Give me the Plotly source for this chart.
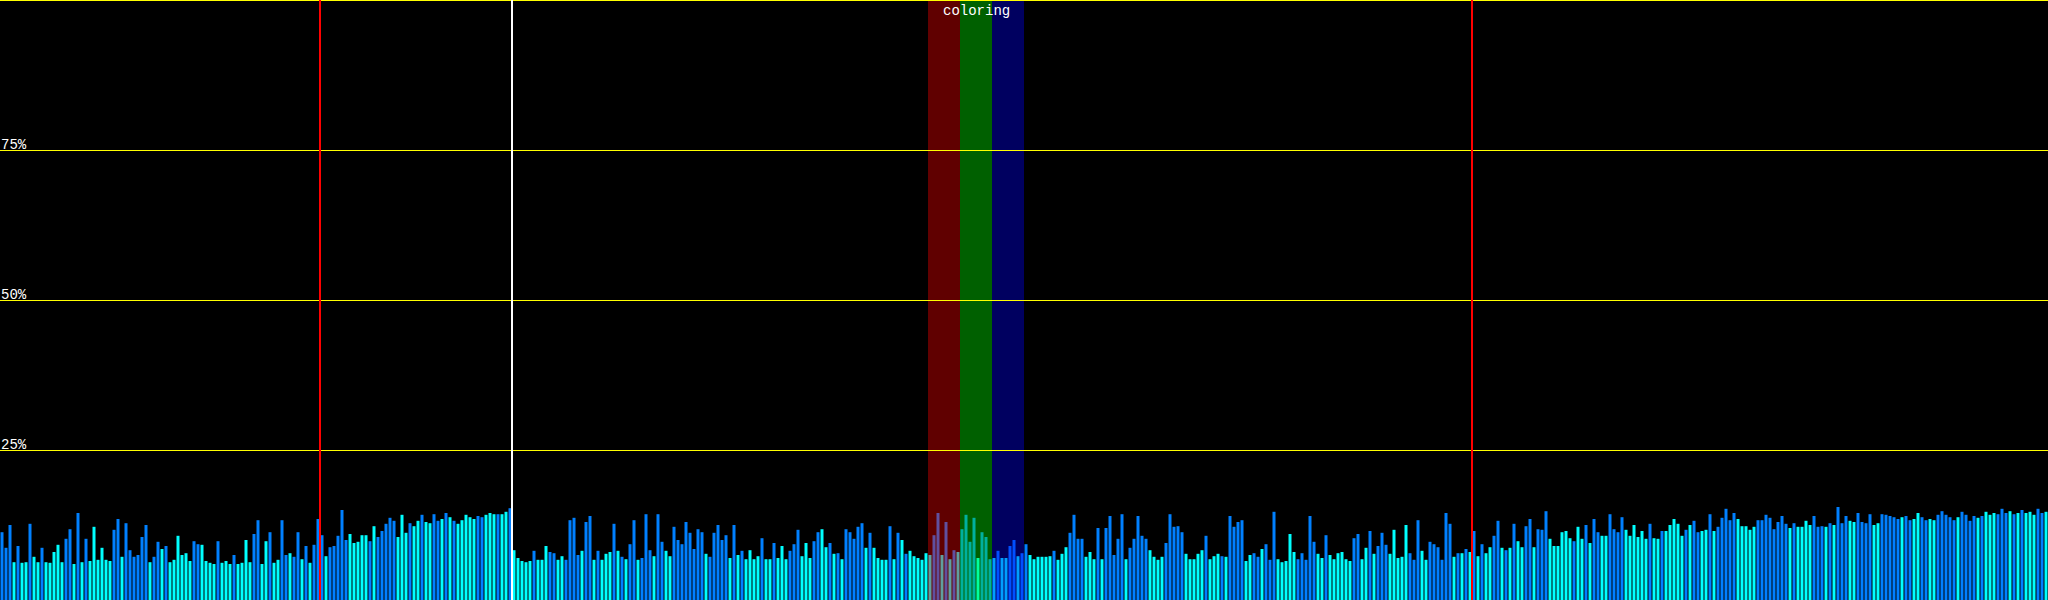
import plotly.graph_objects as go

# bar heights in percent, 100 bars per block
vals_000 = [11.3, 8.7, 12.5, 6.3, 9.0, 6.2, 6.3, 12.7, 7.2, 6.3,
            8.7, 6.3, 6.2, 8.0, 9.2, 6.3, 10.2, 11.8, 6.0, 14.5,
            6.3, 10.2, 6.5, 12.2, 6.7, 8.7, 6.7, 6.5, 11.7, 13.5,
            7.2, 12.8, 8.3, 7.2, 7.5, 10.5, 12.5, 6.3, 7.2, 9.7,
            8.5, 9.0, 6.3, 6.7, 10.7, 7.5, 7.8, 6.5, 9.8, 9.3,
            9.2, 6.5, 6.2, 6.0, 9.8, 6.2, 6.5, 6.0, 7.5, 6.0,
            6.2, 10.0, 6.3, 11.0, 13.3, 6.0, 9.8, 11.3, 6.2, 6.7,
            13.3, 7.5, 7.8, 7.2, 11.3, 6.8, 9.0, 6.2, 9.2, 13.5,
            10.8, 7.3, 8.8, 9.0, 10.7, 15.0, 10.0, 11.0, 9.5, 9.7,
            10.8, 10.8, 9.8, 12.3, 10.5, 11.5, 12.7, 13.7, 13.2, 10.5]
vals_100 = [14.2, 11.2, 12.8, 12.3, 13.2, 14.2, 13.0, 12.8, 14.3, 13.2,
            13.5, 14.5, 13.8, 13.2, 12.7, 13.3, 14.2, 13.8, 13.5, 14.0,
            13.8, 14.2, 14.5, 14.3, 14.3, 14.3, 14.7, 15.3, 8.3, 7.0,
            6.5, 6.3, 6.5, 8.2, 6.7, 6.7, 9.0, 8.0, 7.8, 6.7,
            7.3, 6.7, 13.3, 13.7, 7.5, 8.2, 13.0, 14.0, 6.7, 8.2,
            6.7, 7.7, 8.0, 12.7, 8.2, 7.2, 6.8, 9.3, 13.3, 6.7,
            7.0, 14.3, 8.3, 7.3, 14.3, 9.7, 8.2, 7.3, 12.2, 10.0,
            9.3, 13.0, 11.2, 8.5, 11.8, 11.3, 7.7, 7.2, 11.2, 12.5,
            10.0, 10.8, 7.0, 12.5, 7.5, 8.2, 6.8, 8.3, 6.8, 7.3,
            10.3, 6.8, 6.8, 9.5, 7.0, 9.0, 6.8, 8.2, 9.3, 11.7]
vals_200 = [7.3, 9.5, 7.0, 9.8, 11.3, 11.8, 8.8, 9.5, 7.7, 7.8,
            6.8, 11.8, 11.3, 10.2, 12.2, 12.8, 8.7, 11.2, 8.7, 7.0,
            6.7, 6.7, 12.3, 6.8, 11.2, 10.0, 7.7, 8.2, 7.3, 7.0,
            6.7, 7.8, 7.5, 10.8, 14.5, 7.5, 13.0, 6.8, 8.3, 8.0,
            11.8, 14.2, 9.7, 13.7, 7.0, 11.3, 10.5, 6.8, 7.0, 8.2,
            7.0, 7.0, 9.0, 10.0, 7.3, 7.8, 9.3, 7.5, 6.8, 7.2,
            7.2, 7.2, 7.3, 8.2, 6.7, 7.7, 8.8, 11.2, 14.2, 10.2,
            10.2, 7.2, 8.0, 6.8, 12.0, 6.8, 12.0, 14.0, 7.5, 10.2,
            14.3, 6.8, 8.7, 10.2, 14.0, 10.7, 10.2, 8.3, 7.2, 6.7,
            7.2, 9.5, 14.3, 12.2, 12.3, 11.3, 7.7, 6.8, 6.8, 7.7]
vals_300 = [8.3, 10.7, 6.8, 7.3, 7.7, 7.3, 7.2, 14.0, 12.2, 13.0,
            13.3, 6.5, 7.5, 7.8, 7.2, 8.5, 9.3, 6.7, 14.7, 6.8,
            6.3, 6.5, 11.0, 8.0, 6.8, 7.8, 6.7, 14.0, 9.7, 7.7,
            7.0, 10.8, 7.5, 6.8, 7.8, 8.0, 6.8, 6.5, 10.3, 11.0,
            6.8, 8.7, 11.5, 7.7, 9.0, 11.2, 9.2, 7.7, 11.7, 7.0,
            7.2, 12.5, 7.8, 6.7, 13.3, 8.2, 6.7, 9.7, 9.3, 8.8,
            6.7, 14.5, 12.7, 7.2, 7.8, 7.8, 8.5, 8.0, 11.5, 7.3,
            9.3, 7.8, 8.8, 10.7, 13.2, 8.7, 8.3, 8.7, 12.7, 9.8,
            8.8, 12.3, 13.5, 8.8, 11.8, 11.7, 14.8, 10.2, 9.0, 9.0,
            11.3, 11.5, 10.3, 9.8, 12.2, 10.2, 12.5, 9.5, 13.5, 11.3]
vals_400 = [10.7, 10.7, 14.3, 11.8, 11.3, 13.8, 11.7, 10.7, 12.5, 10.5,
            11.5, 10.2, 12.7, 10.3, 10.2, 11.5, 11.5, 12.5, 13.5, 12.7,
            10.7, 11.7, 12.5, 13.2, 11.3, 11.5, 11.7, 14.3, 11.5, 12.2,
            13.7, 15.2, 13.3, 14.5, 13.5, 12.3, 12.3, 11.7, 12.2, 13.3,
            13.3, 14.2, 13.7, 11.8, 13.0, 14.0, 12.7, 12.0, 12.8, 12.2,
            12.2, 13.2, 12.5, 14.0, 12.2, 12.3, 12.2, 12.8, 12.5, 15.5,
            12.8, 14.0, 13.2, 13.0, 14.5, 13.0, 12.8, 14.3, 12.5, 12.8,
            14.3, 14.2, 14.0, 13.8, 13.5, 13.8, 14.0, 13.3, 13.5, 14.5,
            13.8, 13.3, 13.5, 13.3, 14.2, 14.8, 14.2, 13.8, 13.3, 13.8,
            14.7, 14.2, 13.2, 14.0, 13.7, 14.0, 14.7, 14.2, 14.5, 14.3,
            15.2, 14.5, 14.8, 14.3, 14.5, 15.0, 14.5, 14.7, 14.2, 15.2,
            14.5, 14.7]

# bar kind per bar: b = blue, c = cyan
kind_000 = ("bbbcbccbcc" "bcccccbbcb" "cbccccccbb" "cbbbbbbcbb" "cbccccccbb"
            "ccccbcccbc" "cccbbccbcc" "bbcbbcbcbb" "bcbbbbbccc" "ccbcbbbbbc")
kind_100 = ("ccbccbccbb" "cbcbcccccb" "bcccbccbcc" "cccbcccbbc" "cbbbbcbbcb"
            "cccbcbcbbc" "bbbcbbccbb" "bbbbbbcbbb" "bbcbcbcccc" "bccbcccbbb")
kind_200 = ("cccbbccbcb" "cbbbbbcbcc" "ccbcbcbccc" "cccbbcbcbc" "bbbbcbbbcb"
            "ccbbcbbccc" "cccbcccbbb" "bcccbcbbbb" "bcbbbbbccc" "cbbbbbcccc")
kind_300 = ("cbcccbcbbb" "bccbbcbbbc" "ccccbbbbbc" "cbccccccbb" "ccbcbbbccc"
            "ccbbbccbbb" "bbbcbcbcbc" "bccbbcbcbc" "cbbcbbbccc" "cccbccbcbb")
kind_400 = ("ccbbbbcccc" "ccbccbcccc" "cbcbbccbcb" "bbbbcccccb" "bbbbbbbcbc"
            "cccbbbcbcb" "bbccbbbbcc" "bbbbbcbbcc" "bbccbbbbbc" "bbbbcbcccb"
            "bbcbcbcccb" "bc")

values = vals_000 + vals_100 + vals_200 + vals_300 + vals_400
kinds = kind_000 + kind_100 + kind_200 + kind_300 + kind_400

kind_colors = {"b": "#0080ff", "c": "#00ffff"}
grid_levels = [25, 50, 75, 100]
grid_labels = ["25%", "50%", "75%", ""]
red_marks = [80, 368]
white_marks = [128]
bands = [(232, 240, "#ff0000"), (240, 248, "#00ff00"), (248, 256, "#0000ff")]
band_label = "coloring"

xs = [i + 0.5 for i in range(len(values))]

fig = go.Figure(go.Bar(
    x=xs, y=values, width=0.75,
    marker=dict(color=[kind_colors[k] for k in kinds], line=dict(width=0)),
    hoverinfo="skip",
))

shapes = []
for x0, x1, col in bands:
    shapes.append(dict(type="rect", xref="x", yref="y", x0=x0, x1=x1, y0=0, y1=100,
                       fillcolor=col, opacity=0.375, line=dict(width=0), layer="above"))
for lv in grid_levels:
    if lv == 100:
        shapes.append(dict(type="line", xref="paper", yref="y", x0=0, x1=1, y0=lv, y1=lv,
                           line=dict(color="#ffff00", width=2), layer="above"))
    else:
        # half-pixel nudge so the 1px line lands on a single row
        shapes.append(dict(type="line", xref="paper", yref="y", x0=0, x1=1,
                           ysizemode="pixel", yanchor=lv, y0=-0.5, y1=-0.5,
                           line=dict(color="#ffff00", width=1), layer="above"))
for xm in red_marks:
    shapes.append(dict(type="line", xref="x", yref="paper", x0=xm, x1=xm, y0=0, y1=1,
                       line=dict(color="#ff0000", width=2), layer="above"))
for xm in white_marks:
    shapes.append(dict(type="line", xref="x", yref="paper", x0=xm, x1=xm, y0=0, y1=1,
                       line=dict(color="#ffffff", width=2), layer="above"))

annots = []
for lv, lab in zip(grid_levels, grid_labels):
    if lab:
        annots.append(dict(x=0, y=lv, xref="paper", yref="y", text=lab, showarrow=False,
                           xanchor="left", yanchor="bottom", borderpad=0, yshift=-4,
                           font=dict(family="Liberation Mono", size=14, color="#ffffff")))
annots.append(dict(x=(bands[0][0] + bands[-1][1]) / 2, y=1, xref="x", yref="paper",
                   text=band_label, showarrow=False, xanchor="center", yanchor="top",
                   yshift=-2, borderpad=0,
                   font=dict(family="Liberation Mono", size=14, color="#ffffff")))

fig.update_layout(
    width=2048, height=600,
    margin=dict(l=0, r=0, t=0, b=0),
    paper_bgcolor="#000000", plot_bgcolor="#000000",
    xaxis=dict(range=[0, 512], visible=False, fixedrange=True),
    yaxis=dict(range=[0, 100], visible=False, fixedrange=True),
    showlegend=False,
    shapes=shapes,
    annotations=annots,
)

# the page's default body margin would shift the chart off the window
fig.write_html("out.html", config={"displayModeBar": False},
               post_script="document.body.style.margin='0';document.body.style.background='#000';")
